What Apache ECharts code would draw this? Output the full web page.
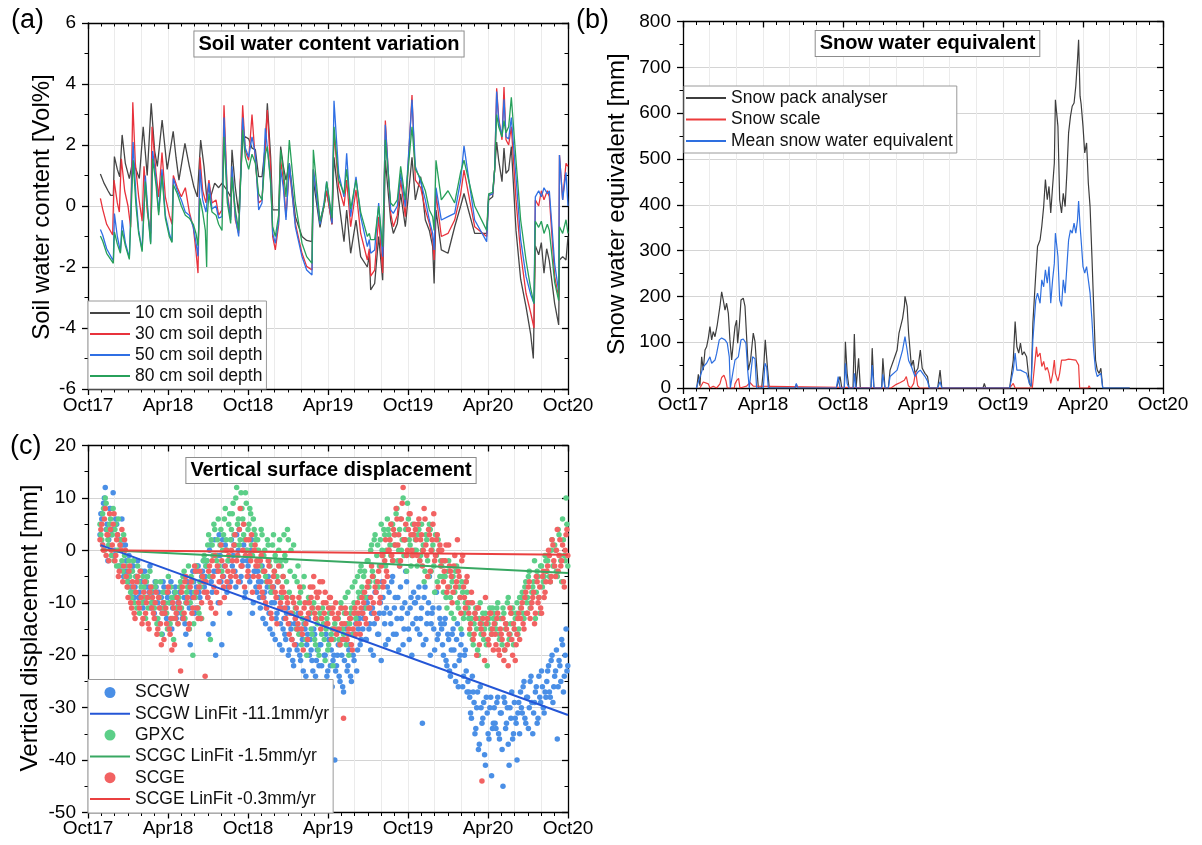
<!DOCTYPE html>
<html><head><meta charset="utf-8">
<script src="https://cdn.jsdelivr.net/npm/echarts@6/dist/echarts.min.js"></script>
<style>html,body{margin:0;padding:0;background:#fff}#c{width:1202px;height:845px}</style>
</head><body><div id="c"></div>
<script>
// ---------- shared axis labels (x in months since Oct 2017) ----------
const xTickLabels = ['Oct17','Apr18','Oct18','Apr19','Oct19','Apr20','Oct20'];

// ---------- (a) soil water content variation [Vol%], [month, value] ----------
const swc10 = [[0.93,1.05],[1.2,0.75],[1.5,0.5],[1.7,0.35],[1.9,0.35],[1.98,1.62],[2.2,1.2],[2.38,0.96],[2.56,2.33],[2.8,1.4],[3.1,0.9],[3.36,1.5],[3.6,1.2],[3.85,0.9],[4.14,2.6],[4.44,1.0],[4.74,3.37],[5.0,1.8],[5.2,1.3],[5.56,2.82],[5.94,1.2],[6.39,2.45],[6.6,1.6],[6.82,0.85],[7.27,2.05],[7.6,1.3],[7.94,0.63],[8.2,0.3],[8.45,2.16],[8.7,1.3],[8.9,0.3],[9.07,0.6],[9.2,0.3],[9.5,0.75],[9.8,0.6],[10.05,0.75],
[10.2,0.7],[10.45,0.5],[10.7,0.3],[10.8,1.84],[11.05,0.6],[11.3,-0.24],[11.6,2.16],[11.8,2.27],[12.05,2.2],[12.3,1.9],[12.55,1.85],[12.8,0.96],[13.05,0.96],[13.3,2.0],[13.45,3.37],[13.7,1.6],[13.85,-0.13],[14.05,-0.13],[14.3,-0.13],[14.45,1.95],[14.65,1.3],[14.85,0.85],[15.1,1.4],[15.55,-0.35],[16.05,-1.0],[16.4,-1.13],[16.8,-1.17],
[16.9,0.85],[17.4,-0.7],[17.7,0.0],[17.9,0.5],[18.3,-0.6],[18.45,1.6],[18.8,0.2],[19.2,-1.17],[19.4,-0.13],[19.7,-1.55],[20.1,-0.46],[20.45,-1.66],[20.95,-2.0],[21.1,-1.6],[21.2,-2.75],[21.5,-2.54],[21.8,-1.0],[22.1,-2.43],[22.3,1.5],[22.7,-0.46],[22.9,-0.9],[23.2,-0.57],[23.45,0.4],[23.8,-0.68],[24.3,1.6],[24.55,0.2],[24.95,0.96],[25.3,-0.46],[25.6,-0.8],[25.85,-1.33],[25.96,-2.54],[26.1,-0.13],[26.5,-1.44],[27.0,-1.55],[27.5,-0.68],[27.95,0.0],[28.2,0.41],[29.0,-0.9],[29.9,-0.9],[30.05,0.2],[30.35,0.3],[30.5,1.2],[30.65,2.1],[30.8,1.5],[31.05,0.8],[31.2,1.9],[31.35,1.07],[31.55,1.18],[31.75,1.95],[32.1,-0.8],[32.45,-2.4],[32.85,-3.3],[33.2,-4.2],[33.4,-5.0],[33.55,-1.3],[33.8,-1.6],[34.0,-1.2],[34.2,-2.2],[34.4,-1.4],[34.6,-1.8],[35.0,-3.2],[35.3,-3.9],[35.36,-1.77],[35.6,-1.66],[35.85,-1.77],[36.0,-1.0]];
const swc30 = [[0.93,0.25],[1.1,-0.1],[1.4,-0.6],[1.85,-0.95],[1.95,0.85],[2.2,0.1],[2.35,-0.2],[2.5,1.55],[2.75,0.5],[3.0,0.0],[3.2,-0.7],[3.36,3.4],[3.55,1.4],[3.8,0.3],[4.06,-0.5],[4.2,1.3],[4.45,-0.2],[4.7,-0.9],[4.8,2.6],[5.1,1.1],[5.3,0.3],[5.55,1.75],[5.8,0.3],[6.1,-0.3],[6.3,-0.6],[6.4,1.0],[6.7,0.6],[7.0,0.3],[7.3,0.6],[7.6,-0.2],[7.9,-0.7],[8.1,-1.5],[8.25,-2.2],[8.4,1.6],[8.6,0.5],[8.85,0.1],[9.07,0.85],[9.3,0.1],[9.6,0.2],[9.8,-0.3],[10.05,-0.13],
[10.2,3.3],[10.45,0.4],[10.7,-0.35],[10.8,1.2],[11.05,-0.45],[11.3,-0.9],[11.6,3.3],[11.8,1.8],[12.05,1.5],[12.3,3.0],[12.55,1.5],[12.8,0.1],[13.05,0.2],[13.3,2.0],[13.45,3.15],[13.7,1.2],[13.85,-1.0],[14.05,-1.44],[14.3,-0.6],[14.45,1.5],[14.65,0.85],[14.85,-0.35],[15.1,1.2],[15.55,-0.57],[16.05,-1.55],[16.4,-1.98],[16.8,-2.1],
[16.9,1.2],[17.4,-0.5],[17.7,0.0],[17.9,0.5],[18.3,-0.6],[18.45,2.4],[18.8,0.63],[19.2,0.0],[19.4,0.85],[19.7,-0.68],[20.1,0.53],[20.45,-0.9],[20.95,-1.77],[21.1,-1.4],[21.2,-2.3],[21.5,-2.1],[21.8,-0.35],[22.1,-2.2],[22.3,2.8],[22.7,-0.24],[22.9,-0.68],[23.2,-0.3],[23.45,0.85],[23.8,-0.35],[24.3,3.64],[24.55,0.85],[24.95,0.6],[25.3,-0.13],[25.6,-0.57],[25.85,-1.1],[25.96,-1.77],[26.1,0.4],[26.5,-1.0],[27.0,-0.9],[27.5,-0.46],[27.95,0.4],[28.2,1.18],[29.0,-0.68],[29.9,-1.0],[30.05,0.35],[30.35,0.4],[30.5,1.2],[30.65,3.86],[30.8,2.9],[31.05,2.17],[31.2,3.9],[31.35,2.17],[31.55,2.0],[31.75,2.6],[32.1,0.2],[32.45,-1.55],[32.85,-2.86],[33.2,-3.5],[33.45,-4.0],[33.55,0.2],[33.8,0.0],[34.0,0.5],[34.2,0.2],[34.45,0.5],[34.6,0.3],[35.0,-2.3],[35.3,-3.0],[35.36,1.67],[35.6,0.2],[35.85,1.4],[36.0,1.3]];
const swc50 = [[0.93,-0.77],[1.1,-0.95],[1.4,-1.4],[1.9,-1.8],[1.98,-0.25],[2.2,-1.0],[2.43,-1.5],[2.56,-0.46],[2.8,-1.2],[3.1,-1.7],[3.38,2.1],[3.6,0.3],[3.8,-0.8],[4.06,-1.45],[4.3,1.0],[4.5,-0.2],[4.7,-1.2],[4.85,1.8],[5.1,0.9],[5.3,-0.2],[5.55,1.2],[5.8,-0.3],[6.1,-0.9],[6.3,-1.17],[6.4,0.9],[6.7,0.5],[7.0,0.2],[7.3,-0.2],[7.6,-0.3],[7.9,-0.7],[8.1,-1.2],[8.25,-1.65],[8.4,1.2],[8.6,0.2],[8.85,-0.2],[9.07,0.75],[9.3,-0.1],[9.6,0.0],[9.8,-0.4],[10.05,-0.35],
[10.2,2.9],[10.45,0.3],[10.7,-0.46],[10.8,1.3],[11.05,-0.35],[11.3,-1.0],[11.6,2.9],[11.8,1.9],[12.05,1.6],[12.3,2.27],[12.55,1.7],[12.8,-0.13],[13.05,0.1],[13.3,2.55],[13.45,2.5],[13.7,0.85],[13.85,-0.9],[14.05,-1.22],[14.3,-0.5],[14.45,1.2],[14.65,0.6],[14.85,-0.46],[15.1,1.4],[15.55,-0.68],[16.05,-1.66],[16.4,-2.1],[16.8,-2.26],
[16.9,1.2],[17.4,-0.6],[17.7,0.1],[17.9,0.8],[18.3,-0.57],[18.45,3.45],[18.8,1.07],[19.2,0.3],[19.4,1.73],[19.7,-0.35],[20.1,0.96],[20.45,-0.35],[20.95,-1.33],[21.1,-1.1],[21.2,-1.55],[21.5,-1.44],[21.8,0.1],[22.1,-1.66],[22.3,2.66],[22.7,-0.13],[22.9,-0.24],[23.2,0.0],[23.45,1.07],[23.8,-0.02],[24.3,3.48],[24.55,1.3],[24.95,0.8],[25.3,0.2],[25.6,-0.46],[25.85,-0.9],[25.96,-1.44],[26.1,0.6],[26.5,-0.46],[27.0,-0.35],[27.5,-0.24],[27.95,0.85],[28.2,1.97],[29.0,-0.46],[29.9,-1.17],[30.05,0.35],[30.35,0.4],[30.5,1.2],[30.65,3.75],[30.8,2.8],[31.05,2.27],[31.2,3.5],[31.35,2.27],[31.55,2.2],[31.75,2.9],[32.1,0.96],[32.45,-1.1],[32.85,-2.3],[33.2,-2.9],[33.45,-3.2],[33.55,0.3],[33.8,0.5],[34.0,0.3],[34.2,0.6],[34.45,0.4],[34.6,0.5],[35.0,-1.9],[35.3,-2.8],[35.36,1.67],[35.6,0.2],[35.85,1.1],[36.0,0.0]];
const swc80 = [[0.93,-0.98],[1.1,-1.15],[1.4,-1.55],[1.9,-1.88],[1.98,-0.85],[2.2,-1.25],[2.43,-1.55],[2.56,-0.8],[2.8,-1.3],[3.1,-1.75],[3.38,1.5],[3.6,0.0],[3.8,-0.9],[4.06,-1.5],[4.3,0.8],[4.5,-0.3],[4.7,-1.25],[4.85,1.55],[5.1,0.7],[5.3,-0.3],[5.55,1.0],[5.8,-0.4],[6.1,-1.0],[6.3,-1.2],[6.4,0.7],[6.7,0.4],[7.0,0.0],[7.3,-0.3],[7.6,-0.4],[7.9,-0.6],[8.1,-0.9],[8.25,-1.3],[8.4,0.25],[8.6,-0.2],[8.8,-0.8],[8.9,-2.0],[8.95,-0.3],[9.07,0.4],[9.3,-0.2],[9.6,-0.3],[9.8,-0.6],[10.05,-0.8],
[10.2,2.27],[10.45,0.1],[10.7,-0.57],[10.8,0.96],[11.05,-0.13],[11.3,-0.8],[11.6,2.5],[11.8,1.6],[12.05,1.2],[12.3,1.7],[12.55,1.4],[12.8,0.4],[13.05,0.2],[13.3,1.7],[13.45,1.95],[13.7,0.74],[13.85,-0.68],[14.05,-1.0],[14.3,-0.3],[14.45,1.84],[14.65,1.18],[14.85,0.3],[15.1,2.16],[15.55,0.1],[16.05,-1.22],[16.4,-1.66],[16.8,-1.88],
[16.9,1.84],[17.4,-0.5],[17.7,0.0],[17.9,0.8],[18.3,-0.4],[18.45,2.6],[18.8,0.85],[19.2,0.4],[19.4,1.2],[19.7,-0.1],[20.1,0.85],[20.45,-0.2],[20.95,-1.0],[21.1,-0.9],[21.2,-1.1],[21.5,-1.1],[21.8,0.0],[22.1,-1.33],[22.3,2.17],[22.7,0.1],[22.9,0.0],[23.2,0.2],[23.45,1.3],[23.8,0.2],[24.3,2.6],[24.55,1.2],[24.95,0.9],[25.3,0.5],[25.6,-0.13],[25.85,-0.35],[25.96,-0.8],[26.1,1.5],[26.5,0.2],[27.0,0.5],[27.5,0.1],[27.95,1.12],[28.2,1.5],[29.0,0.0],[29.9,-0.8],[30.05,0.4],[30.35,0.45],[30.5,1.2],[30.65,3.0],[30.8,2.6],[31.05,2.27],[31.2,2.8],[31.35,2.4],[31.55,2.6],[31.75,3.56],[32.1,1.5],[32.45,-0.46],[32.85,-1.77],[33.2,-2.7],[33.45,-3.2],[33.55,-0.5],[33.8,-0.7],[34.0,-0.5],[34.2,-0.9],[34.45,-0.6],[34.6,-0.8],[35.0,-2.5],[35.3,-3.1],[35.36,-0.68],[35.6,-0.9],[35.85,-0.45],[36.0,-0.9]];

// ---------- (b) snow water equivalent [mm], [month, value] ----------
const snowPack = [[1.03,0],[1.15,30],[1.27,5],[1.40,68],[1.52,39],[1.65,83],[1.77,90],[1.90,109],[2.02,134],[2.15,105],[2.27,123],[2.40,112],[2.57,138],[2.77,178],[2.90,210],[3.02,192],[3.15,170],[3.27,185],[3.40,163],[3.52,105],[3.65,61],[3.77,98],[3.90,134],[4.02,148],[4.10,98],[4.22,134],[4.35,192],[4.52,196],[4.65,178],[4.77,112],[4.90,39],[5.07,61],[5.27,120],[5.40,101],[5.52,50],[5.65,0],[5.90,0],[6.07,54],[6.17,105],[6.27,101],[6.35,39],[6.47,0],[8.4,0],[8.5,8],[8.6,0],
[11.5,0],[11.64,0],[11.78,25],[11.91,0],[12.1,0],[12.18,101],[12.31,32],[12.45,0],[12.75,0],[12.85,118],[12.98,0],[13.1,0],[13.17,65],[13.30,0],[14.1,0],[14.19,87],[14.32,0],[14.9,0],[14.99,65],[15.15,0],[15.4,0],[15.53,39],[15.80,61],[16.06,83],[16.20,120],[16.47,152],[16.60,178],[16.65,200],[16.81,178],[16.92,120],[17.13,47],[17.27,61],[17.40,32],[17.62,43],[17.80,83],[17.94,43],[18.15,32],[18.34,25],[18.47,0],[19.1,0],[19.28,39],[19.41,0],[22.5,0],[22.6,10],[22.7,0],
[24.5,0],[24.64,0],[24.77,61],[24.91,145],[25.04,90],[25.18,76],[25.31,98],[25.44,72],[25.58,79],[25.77,68],[25.98,10],[26.11,3],[26.24,141],[26.46,250],[26.59,309],[26.78,323],[26.91,353],[27.05,396],[27.18,455],[27.32,411],[27.45,440],[27.58,382],[27.72,440],[27.85,491],[27.93,629],[28.12,571],[28.25,411],[28.39,382],[28.52,425],[28.66,396],[28.79,469],[28.92,557],[29.06,593],[29.19,615],[29.33,622],[29.46,659],[29.59,717],[29.67,760],[29.78,637],[29.86,620],[30.0,571],[30.13,513],[30.27,535],[30.4,447],[30.53,396],[30.67,287],[30.8,178],[30.94,61],[31.07,39],[31.21,32],[31.34,43],[31.48,0],[33.5,0]];
const snowScale = [[1.27,0],[1.52,13],[1.65,16],[1.90,9],[2.02,0],[2.27,4],[2.52,0],[2.77,9],[2.90,23],[3.07,28],[3.22,16],[3.32,0],[3.85,0],[3.90,9],[4.02,16],[4.17,21],[4.27,0],[4.77,4],[5.02,12],[5.27,4],[5.40,0],
[15.6,0],[16.0,8],[16.3,12],[16.6,17],[16.75,25],[16.9,5],[17.1,0],[17.3,10],[17.45,36],[17.6,5],[17.75,0],
[24.5,0],[24.77,10],[24.91,0],[26.2,0],[26.51,90],[26.59,68],[26.78,76],[26.91,47],[27.05,58],[27.18,39],[27.32,45],[27.45,32],[27.58,10],[27.72,30],[27.85,61],[27.93,32],[28.12,15],[28.25,32],[28.39,61],[28.66,61],[28.92,63],[29.19,62],[29.46,61],[29.67,50],[29.75,0],[30.4,0],[30.45,5],[30.55,0]];
const meanSwe = [[1.00,0],[1.27,24],[1.52,46],[1.77,54],[2.02,68],[2.15,54],[2.40,61],[2.52,75],[2.72,105],[2.90,109],[3.15,105],[3.32,98],[3.47,68],[3.55,0],[3.77,39],[3.90,61],[4.15,68],[4.35,105],[4.52,107],[4.72,98],[4.85,39],[4.97,0],[5.22,68],[5.40,64],[5.52,0],[6.02,0],[6.15,54],[6.27,46],[6.40,0],[8.4,0],[8.5,10],[8.6,0],
[11.5,0],[11.64,25],[11.78,0],[12.1,0],[12.18,54],[12.31,10],[12.45,0],[12.8,0],[12.85,32],[12.98,0],[14.1,0],[14.19,50],[14.32,0],[14.9,0],[14.99,30],[15.15,0],[15.4,0],[15.53,25],[16.06,39],[16.47,83],[16.65,112],[16.81,83],[16.92,60],[17.13,47],[17.40,25],[17.62,35],[17.80,39],[18.15,25],[18.34,15],[18.47,0],[19.1,0],[19.28,14],[19.41,0],
[24.5,0],[24.64,0],[24.77,39],[24.91,76],[25.04,39],[25.18,40],[25.31,39],[25.58,35],[25.77,32],[25.98,10],[26.11,5],[26.24,105],[26.46,192],[26.59,207],[26.78,185],[26.91,236],[27.05,221],[27.18,258],[27.32,229],[27.45,265],[27.58,185],[27.72,236],[27.85,272],[27.93,338],[28.12,287],[28.25,192],[28.39,178],[28.52,236],[28.66,207],[28.79,265],[28.92,323],[29.06,345],[29.19,338],[29.33,360],[29.46,338],[29.59,367],[29.67,408],[29.78,353],[29.86,323],[30.0,265],[30.13,251],[30.27,265],[30.4,236],[30.53,207],[30.67,149],[30.8,83],[30.94,39],[31.07,25],[31.34,32],[31.48,0],[33.5,0]];

// ---------- (c) vertical displacement [mm]: values every 4 days from month 0.9 (A) and 2 days later (B) ----------
const dispStartMonth = 0.9;
const dispStepDays = 4;
const scgwA = [3,6,9,12,5,2,8,4,-1,6,3,0,-3,1,-4,
-2,-6,-4,-8,-3,-7,-5,-9,-6,-4,-10,-7,-5,-8,-11,
-8,-12,-7,-10,-14,-9,-6,-11,-13,-8,-10,-15,-9,-7,-12,
-10,-7,-13,-9,-16,-6,-11,-8,-4,-12,-7,-3,-9,-5,-2,
-5,-2,-16,1,-8,-4,-20,-1,3,-6,2,-3,0,-7,-12,
2,-1,-4,3,0,-6,-3,1,-8,-2,-5,0,-12,-4,-7,
-4,-9,-6,-13,-8,-11,-5,-15,-10,-7,-17,-12,-9,-14,-19,
-13,-17,-11,-19,-15,-21,-14,-18,-12,-20,-16,-23,-15,-18,-13,
-17,-21,-15,-24,-19,-22,-18,-26,-20,-16,-23,-28,-19,-21,-40,
-22,-18,-25,-20,-27,-17,-23,-19,-24,-16,-21,-14,-19,-13,-17,
-15,-11,-17,-9,-14,-12,-20,-8,-13,-16,-10,-6,-12,-18,-7,
-8,-14,-5,-11,-16,-9,-3,-13,-18,-10,-6,-15,-11,-20,-8,
-10,-15,-7,-13,-33,-9,-17,-12,-5,-14,-11,-19,-8,-16,-13,
-15,-20,-13,-22,-17,-24,-16,-19,-25,-14,-21,-18,-26,-20,-23,
-25,-28,-32,-27,-35,-30,-38,-26,-33,-29,-41,-31,-36,-28,-34,
-30,-34,-28,-36,-31,-45,-29,-33,-37,-30,-27,-35,-32,-40,-29,
-27,-31,-25,-33,-28,-30,-24,-35,-29,-26,-32,-28,-23,-30,-27,
-25,-22,-28,-20,-26,-23,-36,-21,-25,-18,-24,-15,-22];
const scgwB = [7,1,10,4,-2,8,3,11,0,5,-3,2,6,-5,1,
-4,-1,-7,-3,-9,-5,-2,-8,-6,-11,-4,-9,-7,-3,-10,
-10,-6,-13,-8,-11,-16,-7,-12,-9,-14,-6,-11,-8,-13,-10,
-8,-12,-5,-14,-10,-7,-18,-9,-6,-11,-3,-8,-13,-4,-7,
-3,-9,0,-6,-14,2,-4,-10,-1,-18,-5,1,-8,-2,-6,
-3,1,-7,-1,4,-5,-2,-9,0,-3,-6,2,-10,-4,-8,
-6,-11,-3,-9,-14,-7,-12,-8,-16,-10,-13,-6,-18,-11,-15,
-16,-12,-20,-14,-17,-22,-13,-19,-15,-21,-17,-14,-24,-16,-20,
-19,-23,-16,-21,-25,-18,-22,-27,-20,-24,-17,-22,-26,-20,-23,
-20,-24,-17,-26,-21,-15,-22,-18,-25,-20,-16,-23,-15,-18,-12,
-13,-17,-10,-15,-19,-11,-14,-8,-16,-12,-21,-9,-14,-11,-17,
-12,-6,-16,-9,-13,-19,-7,-11,-15,-4,-12,-17,-9,-14,-10,
-13,-9,-16,-11,-18,-7,-14,-10,-20,-12,-15,-8,-17,-11,-14,
-18,-14,-21,-16,-23,-19,-15,-22,-17,-26,-20,-16,-24,-19,-27,
-27,-31,-24,-29,-34,-27,-37,-30,-32,-39,-28,-35,-30,-43,-33,
-33,-29,-35,-31,-38,-28,-34,-30,-41,-32,-36,-29,-33,-31,-35,
-30,-26,-32,-28,-34,-25,-29,-31,-27,-33,-24,-29,-26,-31,-28,
-23,-27,-21,-29,-24,-19,-26,-22,-17,-27,-20,-23,-28];
const gpxcA = [5,2,8,10,4,1,6,3,-2,5,0,-3,2,-4,-1,
-3,-7,-5,-9,-2,-8,-11,-6,-4,-10,-7,-13,-5,-9,-8,
-7,-11,-6,-13,-9,-16,-8,-10,-12,-5,-14,-9,-17,-8,-11,
-9,-6,-12,-4,-10,-7,-15,-5,-20,-8,-3,-11,-6,-13,-2,
-6,-2,3,-17,1,5,-1,2,-3,4,0,6,2,-2,7,
4,9,1,12,6,2,8,3,11,0,5,7,-1,4,2,
2,-2,4,-4,0,-6,1,-3,-8,3,-1,-5,0,-2,-9,
3,-2,4,-8,0,-12,-5,-15,-3,-10,-18,-7,-14,-20,-9,
-12,-16,-10,-18,-14,-20,-13,-11,-17,-15,-19,-12,-16,-22,-14,
-15,-13,-18,-11,-16,-9,-14,-20,-12,-7,-10,-13,-5,-9,-3,
-8,-4,-11,-2,-6,1,-5,3,-1,-7,2,0,4,-3,6,
3,-1,5,1,7,-2,4,0,10,2,-4,6,1,-1,3,
2,-3,4,-1,0,-6,3,-2,5,-4,1,-8,-1,2,-5,
-3,-8,-5,-11,-2,-9,-6,-13,-4,-10,-7,-15,-8,-12,-6,
-11,-16,-13,-18,-12,-15,-20,-10,-14,-17,-12,-22,-13,-15,-11,
-12,-15,-10,-17,-13,-11,-19,-14,-9,-16,-12,-18,-13,-10,-15,
-11,-8,-13,-6,-9,-4,-10,-7,-2,-8,-5,-12,-3,-6,-1,
-4,-1,-6,2,-3,0,-5,3,-2,6,-1,10,-3];
const gpxcB = [3,7,0,9,2,5,-1,8,4,-3,6,1,-2,3,-5,
-6,-2,-8,-4,-10,-5,-3,-12,-7,-5,-9,-6,-11,-4,-10,
-10,-7,-14,-9,-6,-12,-11,-8,-15,-10,-7,-13,-9,-11,-14,
-7,-11,-5,-13,-8,-3,-10,-6,-14,-9,-4,-12,-7,-5,-1,
-3,1,-5,2,-1,4,-2,6,1,-4,3,8,0,5,2,
7,3,10,5,1,11,6,2,9,4,8,1,6,3,0,
0,-3,3,-1,-5,2,-2,-7,1,-4,-2,-6,2,-3,-5,
-1,-6,2,-4,-9,1,-11,-6,-16,-8,-13,-5,-17,-10,-12,
-15,-11,-17,-13,-19,-12,-16,-14,-21,-13,-18,-11,-15,-17,-13,
-13,-17,-10,-15,-12,-18,-8,-14,-11,-16,-6,-12,-8,-4,-7,
-5,-9,-2,-7,0,-4,2,-6,1,-3,5,-1,3,0,4,
1,5,-2,3,8,0,6,2,-1,4,9,2,-3,5,0,
0,3,-2,5,1,-4,2,-5,4,0,-3,3,-6,0,-2,
-5,-2,-9,-4,-7,-12,-5,-8,-3,-11,-9,-6,-13,-10,-8,
-13,-10,-17,-14,-11,-19,-13,-16,-12,-15,-18,-14,-11,-16,-13,
-14,-11,-16,-13,-18,-12,-15,-10,-17,-14,-11,-15,-12,-16,-9,
-9,-12,-7,-10,-5,-11,-8,-6,-13,-4,-9,-3,-7,-5,-2,
-2,-5,0,-3,1,-4,4,-1,-6,2,-2,5,8];
const scgeA = [2,5,0,8,3,-2,4,1,7,-1,3,-4,0,-6,2,
-5,-9,-3,-11,-7,-13,-6,-10,-4,-14,-8,-12,-9,-15,-7,
-9,-13,-8,-15,-11,-18,-10,-12,-14,-7,-16,-19,-11,-13,-9,
-10,-23,-7,-12,-5,-9,-14,-6,-11,-3,-8,-13,-4,-10,-6,
-24,-8,-4,-10,-2,-7,-12,-3,-6,1,-5,-9,0,-4,-7,
0,-4,3,-2,-6,8,-3,5,-1,-5,2,-2,-8,0,-3,
-3,-7,-1,-9,-4,-11,-2,-6,-13,-5,-8,-14,-3,-10,-7,
-8,-13,-10,-16,-12,-9,-18,-11,-14,-7,-15,-19,-10,-13,-12,
-7,-11,-5,-13,-9,-8,-15,-6,-12,-10,-14,-9,-17,-11,-13,
-16,-12,-18,-14,-32,-11,-17,-15,-13,-19,-12,-16,-10,-14,-11,
-12,-8,-14,-6,-11,-3,-10,-7,-13,-4,-9,-1,-6,2,-5,
0,5,-2,3,8,1,-3,6,12,2,-1,4,7,0,3,
4,-1,6,2,-3,8,1,-5,3,0,5,-2,2,-7,1,
0,-6,-2,-8,1,-4,-10,-3,-7,2,-5,-12,-1,-9,-6,
-10,-15,-8,-17,-12,-20,-11,-14,-44,-16,-9,-13,-18,-12,-15,
-14,-18,-12,-20,-16,-13,-19,-15,-22,-11,-17,-14,-21,-16,-12,
-13,-10,-15,-8,-12,-6,-11,-9,-14,-5,-10,-7,-12,-4,-8,
-4,0,-6,2,-2,-5,4,-1,-3,1,-7,3,-1];
const scgeB = [4,1,6,-1,3,7,0,5,-2,2,-5,1,4,-3,0,
-7,-4,-10,-6,-12,-8,-5,-11,-9,-13,-6,-10,-14,-8,-11,
-12,-10,-16,-9,-14,-12,-17,-11,-8,-15,-13,-10,-18,-12,-14,
-11,-8,-13,-6,-10,-15,-7,-12,-9,-4,-11,-7,-13,-5,-8,
-6,-9,-3,-11,-5,-1,-8,-4,-10,-2,-7,-3,-6,-1,-5,
-2,1,-5,-1,4,-3,0,-7,2,-4,-1,3,-5,1,-2,
-5,-2,-8,-4,-10,-6,-3,-12,-7,-4,-9,-6,-11,-8,-5,
-11,-9,-14,-12,-17,-10,-13,-15,-9,-12,-16,-11,-14,-17,-10,
-9,-7,-12,-8,-11,-6,-13,-10,-8,-14,-11,-9,-12,-15,-10,
-13,-15,-11,-17,-14,-12,-16,-13,-18,-15,-11,-14,-12,-16,-9,
-10,-13,-7,-11,-9,-5,-12,-8,-6,-10,-3,-7,-2,-4,0,
2,-1,4,1,6,3,-2,9,2,5,0,7,3,-1,5,
2,5,-2,3,0,6,-1,4,-4,2,7,-1,3,0,-3,
-2,-4,1,-7,-3,-5,-8,-1,-6,-4,-9,-2,-7,-11,-5,
-12,-14,-10,-16,-13,-11,-18,-15,-13,-21,-14,-17,-12,-16,-19,
-16,-13,-19,-15,-17,-21,-14,-18,-16,-12,-20,-15,-18,-13,-17,
-11,-14,-9,-12,-7,-13,-10,-8,-12,-6,-9,-11,-5,-9,-6,
-3,-1,-5,1,-3,0,-4,2,-2,-6,0,4,-2];
const fitSCGW = [[0.95,1.0],[36,-31.4]];
const fitSCGC = [[0.95,0.1],[36,-4.3]];
const fitSCGE = [[0.95,0.0],[36,-0.85]];

// ---------- build ----------
const FONT = '"Liberation Sans", Arial, Helvetica, sans-serif';
const LINE_ICON = 'path://M0,0H40V2H0Z';
const toXY = (vals, offsetDays) => vals.map((v, i) => [dispStartMonth + (i * dispStepDays + offsetDays) / 30.44, v]);
const pts = (a, b) => toXY(a, 0).concat(toXY(b, 2));

const grids = [
  {left: 88, top: 23, width: 480, height: 366},
  {left: 683, top: 21.5, width: 480, height: 366.5},
  {left: 88, top: 445.5, width: 480, height: 367}
].map(g => Object.assign({containLabel: false, outerBoundsMode: 'none'}, g));

const axisCol = '#000';
function xAxes(g) {
  const base = {gridIndex: g, type: 'value', min: 0, max: 36, interval: 6};
  const line = {show: true, onZero: false, lineStyle: {color: axisCol, width: 1.3}};
  return [
    Object.assign({}, base, {position: 'bottom', axisLine: line,
      axisTick: {show: true, inside: false, length: 6, lineStyle: {color: axisCol, width: 1.3}},
      minorTick: {show: true, splitNumber: 6, length: 3.5, lineStyle: {color: axisCol, width: 1}},
      axisLabel: {show: true, formatter: v => xTickLabels[Math.round(v / 6)], color: '#000', fontSize: 19, fontFamily: FONT, margin: 7, showMinLabel: true, showMaxLabel: true},
      splitLine: {show: false}}),
    Object.assign({}, base, {position: 'top', axisLine: line,
      axisTick: {show: true, inside: true, length: 6, lineStyle: {color: axisCol, width: 1.3}},
      minorTick: {show: true, splitNumber: 6, length: 3.5, lineStyle: {color: axisCol, width: 1}},
      axisLabel: {show: false}, splitLine: {show: false}}),
    {gridIndex: g, type: 'value', min: 0, max: 36, interval: 2, position: 'bottom',
      axisLine: {show: false}, axisTick: {show: false}, axisLabel: {show: false},
      splitLine: {show: true, lineStyle: {color: '#ebebeb', width: 1}}}
  ];
}
function yAxes(g, min, max, interval) {
  const base = {gridIndex: g, type: 'value', min: min, max: max, interval: interval};
  const line = {show: true, onZero: false, lineStyle: {color: axisCol, width: 1.3}};
  return [
    Object.assign({}, base, {position: 'left', axisLine: line,
      axisTick: {show: true, inside: false, length: 6, lineStyle: {color: axisCol, width: 1.3}},
      minorTick: {show: true, splitNumber: 2, length: 3.5, lineStyle: {color: axisCol, width: 1}},
      axisLabel: {color: '#000', fontSize: 19, fontFamily: FONT, margin: 12, showMinLabel: true, showMaxLabel: true},
      splitLine: {show: true, lineStyle: {color: '#d4d4d4', width: 1}}}),
    Object.assign({}, base, {position: 'right', axisLine: line,
      axisTick: {show: true, inside: true, length: 6, lineStyle: {color: axisCol, width: 1.3}},
      minorTick: {show: true, splitNumber: 2, length: 3.5, lineStyle: {color: axisCol, width: 1}},
      axisLabel: {show: false}, splitLine: {show: false}})
  ];
}

function lineSeries(name, data, color, gi, width, z) {
  return {name: name, type: 'line', data: data, xAxisIndex: gi * 3, yAxisIndex: gi * 2,
    showSymbol: false, symbol: 'none', lineStyle: {color: color, width: width}, itemStyle: {color: color},
    z: z || 2, animation: false, silent: true};
}
function scatterSeries(name, data, color, gi) {
  return {name: name, type: 'scatter', data: data, xAxisIndex: gi * 3, yAxisIndex: gi * 2,
    symbol: 'circle', symbolSize: 5.5, itemStyle: {color: color, opacity: 1}, z: 2, animation: false, silent: true};
}

const legendText = {fontSize: 17.5, fontFamily: FONT, color: '#111', lineHeight: 18};
const legendBase = {orient: 'vertical', itemWidth: 40, itemHeight: 11, symbolKeepAspect: true,
  selectedMode: false, backgroundColor: '#fff', borderColor: '#9a9a9a', borderWidth: 1,
  textStyle: legendText, align: 'left'};

const C = {
  k10: '#454545', r30: '#e8323c', b50: '#2f6fe4', g80: '#27a05a',
  spa: '#3d3d3d', ss: '#ec3b3b', mswe: '#2e6fe0',
  ptW: '#4a8fe6', ptC: '#5ccf88', ptE: '#f26262',
  fW: '#2456d6', fC: '#38a862', fE: '#ea4040'
};

const option = {
  animation: false,
  backgroundColor: '#fff',
  grid: grids,
  xAxis: [].concat(xAxes(0), xAxes(1), xAxes(2)),
  yAxis: [].concat(yAxes(0, -6, 6, 2), yAxes(1, 0, 800, 100), yAxes(2, -50, 20, 10)),
  legend: [
    Object.assign({}, legendBase, {left: 88, top: 301, itemGap: 3, padding: [3, 4, 4, 2],
      data: ['10 cm soil depth', '30 cm soil depth', '50 cm soil depth', '80 cm soil depth'].map(n => ({name: n, icon: LINE_ICON}))}),
    Object.assign({}, legendBase, {left: 684, top: 86, itemGap: 3.5, padding: [3, 4, 3, 2],
      data: ['Snow pack analyser', 'Snow scale', 'Mean snow water equivalent'].map(n => ({name: n, icon: LINE_ICON}))}),
    Object.assign({}, legendBase, {left: 88, top: 679.5, itemGap: 3.3, padding: [4, 4, 5, 2],
      data: [{name: 'SCGW', icon: 'circle'}, {name: 'SCGW LinFit -11.1mm/yr', icon: LINE_ICON},
             {name: 'GPXC', icon: 'circle'}, {name: 'SCGC LinFit -1.5mm/yr', icon: LINE_ICON},
             {name: 'SCGE', icon: 'circle'}, {name: 'SCGE LinFit -0.3mm/yr', icon: LINE_ICON}]})
  ],
  series: [
    lineSeries('10 cm soil depth', swc10, C.k10, 0, 1.3),
    lineSeries('30 cm soil depth', swc30, C.r30, 0, 1.3),
    lineSeries('50 cm soil depth', swc50, C.b50, 0, 1.3),
    lineSeries('80 cm soil depth', swc80, C.g80, 0, 1.3),
    lineSeries('Snow pack analyser', snowPack, C.spa, 1, 1.2),
    lineSeries('Snow scale', snowScale, C.ss, 1, 1.2),
    lineSeries('Mean snow water equivalent', meanSwe, C.mswe, 1, 1.2),
    scatterSeries('SCGW', pts(scgwA, scgwB), C.ptW, 2),
    scatterSeries('GPXC', pts(gpxcA, gpxcB), C.ptC, 2),
    scatterSeries('SCGE', pts(scgeA, scgeB), C.ptE, 2),
    lineSeries('SCGW LinFit -11.1mm/yr', fitSCGW, C.fW, 2, 2, 5),
    lineSeries('SCGC LinFit -1.5mm/yr', fitSCGC, C.fC, 2, 2, 5),
    lineSeries('SCGE LinFit -0.3mm/yr', fitSCGE, C.fE, 2, 2, 5)
  ],
  graphic: {elements: [
    {type: 'text', x: 11, y: 21, z: 100, style: {text: '(a)', fontSize: 27, fontFamily: FONT, fill: '#000', align: 'left', verticalAlign: 'middle', textAlign: 'left', textVerticalAlign: 'middle'}},
    {type: 'text', x: 576, y: 21, z: 100, style: {text: '(b)', fontSize: 27, fontFamily: FONT, fill: '#000', align: 'left', verticalAlign: 'middle', textAlign: 'left', textVerticalAlign: 'middle'}},
    {type: 'text', x: 10, y: 447, z: 100, style: {text: '(c)', fontSize: 27, fontFamily: FONT, fill: '#000', align: 'left', verticalAlign: 'middle', textAlign: 'left', textVerticalAlign: 'middle'}},
    {type: 'text', x: 42, y: 207, rotation: Math.PI / 2, z: 100, style: {text: 'Soil water content [Vol%]', fontSize: 24, fontFamily: FONT, fill: '#000', align: 'center', verticalAlign: 'middle', textAlign: 'center', textVerticalAlign: 'middle'}},
    {type: 'text', x: 617, y: 204, rotation: Math.PI / 2, z: 100, style: {text: 'Snow water equivalent [mm]', fontSize: 24, fontFamily: FONT, fill: '#000', align: 'center', verticalAlign: 'middle', textAlign: 'center', textVerticalAlign: 'middle'}},
    {type: 'text', x: 30, y: 628, rotation: Math.PI / 2, z: 100, style: {text: 'Vertical displacement [mm]', fontSize: 24, fontFamily: FONT, fill: '#000', align: 'center', verticalAlign: 'middle', textAlign: 'center', textVerticalAlign: 'middle'}},
    {type: 'text', x: 329, y: 44, z: 100, style: {text: 'Soil water content variation', fontSize: 20, fontWeight: 'bold', fontFamily: FONT, fill: '#000', align: 'center', verticalAlign: 'middle', textAlign: 'center', textVerticalAlign: 'middle', backgroundColor: '#fff', borderColor: '#8c8c8c', borderWidth: 1, padding: [3, 4, 2, 4]}},
    {type: 'text', x: 927.5, y: 43.5, z: 100, style: {text: 'Snow water equivalent', fontSize: 20, fontWeight: 'bold', fontFamily: FONT, fill: '#000', align: 'center', verticalAlign: 'middle', textAlign: 'center', textVerticalAlign: 'middle', backgroundColor: '#fff', borderColor: '#8c8c8c', borderWidth: 1, padding: [3, 4, 2, 4]}},
    {type: 'text', x: 331, y: 470.5, z: 100, style: {text: 'Vertical surface displacement', fontSize: 20, fontWeight: 'bold', fontFamily: FONT, fill: '#000', align: 'center', verticalAlign: 'middle', textAlign: 'center', textVerticalAlign: 'middle', backgroundColor: '#fff', borderColor: '#8c8c8c', borderWidth: 1, padding: [3, 4, 2, 4]}}
  ]}
};

const chart = echarts.init(document.getElementById('c'), null, {renderer: 'canvas', width: 1202, height: 845});
chart.setOption(option);
</script></body></html>
